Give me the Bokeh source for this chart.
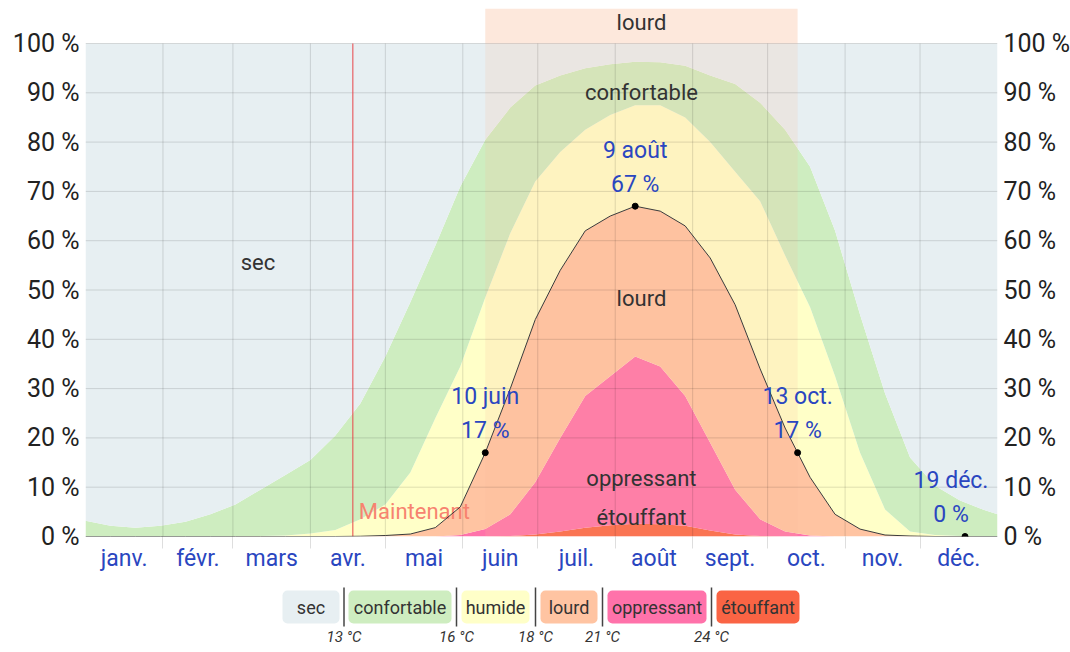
import numpy as np
from bokeh.plotting import figure
from bokeh.models import Range1d, LinearAxis, FixedTicker, BoxAnnotation
from bokeh.layouts import column
from bokeh.embed import file_html
from bokeh.resources import INLINE
from bokeh.core.properties import value

# ---------------- data ----------------
days = [0, 10, 20, 30, 40, 50, 60, 70, 80, 90, 100, 110, 120, 130, 140, 150, 160, 170, 180,
        190, 200, 210, 220, 230, 240, 250, 260, 270, 280, 290, 300, 310, 320, 330, 340, 350, 360, 365]
# share of time (%) with dew point above each threshold
above_13 = [3.2, 2.2, 1.8, 2.2, 3.0, 4.5, 6.5, 9.5, 12.5, 15.5, 20.5, 27, 36.5, 47.5, 59, 71, 80.5, 87,
            91.5, 93.5, 95, 95.8, 96.3, 96.2, 95.5, 93.5, 91.8, 88, 82.5, 75, 62, 45, 29, 16, 10.3, 7.3, 5.3, 4.5]
above_16 = [0, 0, 0, 0, 0, 0, 0.05, 0.1, 0.2, 0.6, 1.3, 3.5, 6.5, 13, 24, 34.5, 48.5, 61.5,
            72, 78, 82.5, 85.5, 87.5, 87.5, 85, 80, 74, 68, 57, 46.5, 32.5, 17, 5.5, 1.0, 0.3, 0.1, 0, 0]
above_18 = [0, 0, 0, 0, 0, 0, 0, 0, 0, 0, 0, 0.05, 0.2, 0.5, 1.8, 6, 17, 30,
            44, 54, 62, 65, 67, 66, 63, 56.5, 47, 34, 22, 12, 4.5, 1.5, 0.3, 0.1, 0, 0, 0, 0]
above_21 = [0, 0, 0, 0, 0, 0, 0, 0, 0, 0, 0, 0, 0, 0, 0, 0.3, 1.5, 4.5,
            11, 20, 28.5, 32.5, 36.5, 34.5, 28.5, 19, 9.5, 3.5, 1, 0.2, 0, 0, 0, 0, 0, 0, 0, 0]
above_24 = [0, 0, 0, 0, 0, 0, 0, 0, 0, 0, 0, 0, 0, 0, 0, 0, 0, 0.1,
            0.4, 1.0, 1.8, 2.3, 2.6, 2.5, 2.2, 1.2, 0.4, 0.1, 0, 0, 0, 0, 0, 0, 0, 0, 0, 0]

month_names = ["janv.", "févr.", "mars", "avr.", "mai", "juin", "juil.", "août", "sept.", "oct.", "nov.", "déc."]
month_lengths = [31, 28, 31, 30, 31, 30, 31, 31, 30, 31, 30, 31]
y_ticks = [0, 10, 20, 30, 40, 50, 60, 70, 80, 90, 100]

ann_days = [160, 220, 285, 352]
ann_vals = [17, 67, 17, 0]
ann_dates = ["10 juin", "9 août", "13 oct.", "19 déc."]
ann_pct = ["17 %", "67 %", "17 %", "0 %"]
now_day = 107

cat_labels = ["sec", "confortable", "humide", "lourd", "oppressant", "étouffant"]
cat_colors = ["#e7eff2", "#ceedc0", "#ffffc8", "#ffc4a2", "#ff72aa", "#fa6444"]
thresholds = ["13 °C", "16 °C", "18 °C", "21 °C", "24 °C"]

# ---------------- styling ----------------
FAM = "Roboto"
FONT = value(FAM)
BLUE = "#2a46c0"
DARK = "#333333"

month_starts = list(np.cumsum([0] + month_lengths))
month_mids = [(month_starts[i] + month_starts[i + 1]) / 2 for i in range(12)]

p = figure(frame_width=912, frame_height=528, output_backend="svg", toolbar_location=None,
           x_range=Range1d(0, 365), y_range=Range1d(0, 107.1),
           min_border_left=85, min_border_right=65, min_border_top=8, min_border_bottom=46,
           background_fill_color="white", border_fill_color="white", outline_line_color=None)
p.xgrid.visible = False
p.ygrid.visible = False
p.xaxis.visible = False
p.yaxis.visible = False

zeros = [0] * len(days)
p.varea(x=days, y1=zeros, y2=above_24, fill_color=cat_colors[5])
p.varea(x=days, y1=above_24, y2=above_21, fill_color=cat_colors[4])
p.varea(x=days, y1=above_21, y2=above_18, fill_color=cat_colors[3])
p.varea(x=days, y1=above_18, y2=above_16, fill_color=cat_colors[2])
p.varea(x=days, y1=above_16, y2=above_13, fill_color=cat_colors[1])
p.varea(x=days, y1=above_13, y2=100, fill_color=cat_colors[0])

# highlighted period (lourd above 17 %)
band_start, band_end = ann_days[0], ann_days[2]
p.quad(left=band_start, right=band_end, bottom=0, top=100, fill_color="#fabe9c", fill_alpha=0.18, line_color=None)
p.quad(left=band_start, right=band_end, bottom=100, top=107.1, fill_color="#fde8dc", line_color=None)

# grid lines
p.segment(x0=month_starts[1:-1], y0=0, x1=month_starts[1:-1], y1=100, line_color="black", line_alpha=0.13, line_width=1)
p.segment(x0=0, y0=y_ticks[1:], x1=365, y1=y_ticks[1:], line_color="black", line_alpha=0.13, line_width=1)

# now line
p.segment(x0=now_day, y0=0, x1=now_day, y1=100, line_color="#e8454a", line_width=1)
p.text(x=[now_day], y=[0], text=["Maintenant"], x_offset=6, y_offset=-13, text_align="left", text_baseline="bottom",
       text_color="#f7836f", text_font=FONT, text_font_size="22px")

# muggy line and annotations
p.line(days, above_18, line_color="#3a3a3a", line_width=1)
p.scatter(ann_days, ann_vals, size=6, color="black")
dx = [0, 0, 0, -14]
p.text(x=ann_days, y=ann_vals, text=ann_dates, x_offset=dx, y_offset=-56, text_align="center",
       text_baseline="middle", text_color=BLUE, text_font=FONT, text_font_size="23px")
p.text(x=ann_days, y=ann_vals, text=ann_pct, x_offset=dx, y_offset=-22, text_align="center",
       text_baseline="middle", text_color=BLUE, text_font=FONT, text_font_size="23px")

# category labels inside the chart
mid_band = (band_start + band_end) / 2
p.text(x=[69, mid_band, mid_band, mid_band, mid_band],
       y=[55.6, 90, 48.3, 11.8, 3.9],
       text=["sec", "confortable", "lourd", "oppressant", "étouffant"],
       text_align="center", text_baseline="middle", text_color=DARK, text_font=FONT, text_font_size="22px")
p.text(x=[mid_band], y=[100], text=["lourd"], y_offset=-21, text_align="center", text_baseline="middle",
       text_color=DARK, text_font=FONT, text_font_size="22px")

# axes
xax = LinearAxis(ticker=FixedTicker(ticks=month_mids, minor_ticks=month_starts[1:-1]),
                 major_label_overrides={m: n for m, n in zip(month_mids, month_names)},
                 axis_line_color=None, major_tick_line_color=None, major_tick_out=0, major_tick_in=0,
                 minor_tick_line_color="black", minor_tick_line_alpha=0.13, minor_tick_in=0, minor_tick_out=12,
                 major_label_standoff=-4, major_label_text_color=BLUE,
                 major_label_text_font=FAM, major_label_text_font_size="23px")
p.add_layout(xax, "below")
for side in ("left", "right"):
    yax = LinearAxis(ticker=FixedTicker(ticks=y_ticks),
                     major_label_overrides={t: f"{t} %" for t in y_ticks},
                     axis_line_color=None, major_tick_line_color=None, minor_tick_line_color=None,
                     major_tick_out=0, major_tick_in=0,
                     major_label_standoff=6, major_label_text_color="#222222",
                     major_label_text_font=FAM, major_label_text_font_size="25px")
    p.add_layout(yax, side)

# ---------------- legend strip (page pixel coordinates) ----------------
lg = figure(frame_width=912, frame_height=66, output_backend="svg", toolbar_location=None,
            x_range=Range1d(85, 997), y_range=Range1d(648, 582),
            min_border_left=85, min_border_right=65, min_border_top=0, min_border_bottom=0,
            outline_line_color=None, background_fill_color="white", border_fill_color="white")
lg.axis.visible = False
lg.grid.visible = False
box_left = [282, 348, 461, 540, 607, 716]
box_right = [339, 451, 529, 597, 706, 799]
sep_x = [343.5, 456, 535, 602, 711]
for l, r, c in zip(box_left, box_right, cat_colors):
    lg.add_layout(BoxAnnotation(left=l, right=r, top=590, bottom=623, fill_color=c, fill_alpha=1,
                                line_color=None, border_radius=5, level="underlay"))
lg.text(x=[(l + r) / 2 for l, r in zip(box_left, box_right)], y=[607] * 6, text=cat_labels,
        text_align="center", text_baseline="middle", text_color=DARK, text_font=FONT, text_font_size="18px")
lg.segment(x0=sep_x, y0=587, x1=sep_x, y1=626, line_color="#444444", line_width=1.5)
lg.text(x=sep_x, y=[636] * 5, text=thresholds, text_align="center", text_baseline="middle",
        text_color=DARK, text_font=FONT, text_font_size="15px", text_font_style="italic")

layout = column(p, lg, spacing=0)
open("out.html", "w").write(file_html(layout, INLINE))
